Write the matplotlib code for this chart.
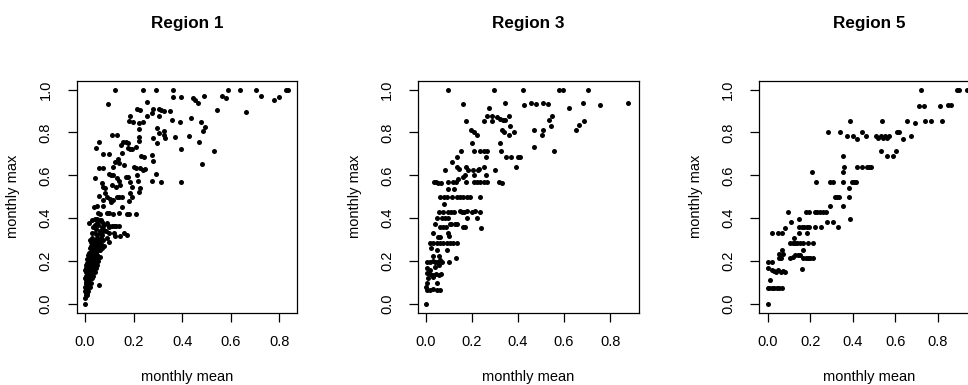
import numpy as np
import matplotlib
matplotlib.use("Agg")
import matplotlib.pyplot as plt

plt.rcParams['font.family'] = ['Liberation Sans', 'DejaVu Sans']

# monthly mean / monthly max pairs
region1 = [
    (0.125, 1.0), (0.24, 1.0), (0.293, 1.0), (0.363, 1.0), (0.59, 1.0), (0.639, 1.0),
    (0.702, 1.0), (0.826, 1.0), (0.834, 1.0),
    (0.093, 0.933), (0.362, 0.966), (0.394, 0.964), (0.444, 0.963), (0.451, 0.952),
    (0.464, 0.936), (0.49, 0.969), (0.565, 0.969), (0.579, 0.961), (0.726, 0.97),
    (0.776, 0.953), (0.8, 0.964),
    (0.256, 0.94), (0.215, 0.908), (0.226, 0.904), (0.28, 0.91), (0.303, 0.91),
    (0.313, 0.905), (0.326, 0.902), (0.351, 0.9), (0.542, 0.904), (0.661, 0.897),
    (0.184, 0.877), (0.181, 0.855), (0.196, 0.848), (0.224, 0.846), (0.24, 0.848),
    (0.256, 0.877), (0.277, 0.893), (0.306, 0.877), (0.358, 0.857), (0.392, 0.851),
    (0.437, 0.866), (0.479, 0.848), (0.495, 0.827), (0.487, 0.806),
    (0.224, 0.816), (0.222, 0.781), (0.224, 0.759), (0.295, 0.82), (0.305, 0.796),
    (0.295, 0.753), (0.326, 0.807), (0.327, 0.788), (0.331, 0.773), (0.278, 0.773),
    (0.37, 0.781), (0.427, 0.785), (0.468, 0.757),
    (0.11, 0.79), (0.13, 0.79), (0.056, 0.757), (0.045, 0.726), (0.075, 0.698), (0.1, 0.698),
    (0.15, 0.743), (0.158, 0.757), (0.167, 0.757), (0.177, 0.753), (0.175, 0.729),
    (0.185, 0.725), (0.193, 0.722), (0.208, 0.734),
    (0.152, 0.703), (0.136, 0.675), (0.123, 0.664), (0.141, 0.656), (0.23, 0.69),
    (0.243, 0.687), (0.277, 0.695), (0.28, 0.666), (0.394, 0.723), (0.531, 0.714), (0.483, 0.655),
    (0.056, 0.636), (0.075, 0.636), (0.114, 0.639), (0.16, 0.649), (0.203, 0.641),
    (0.21, 0.633), (0.225, 0.633), (0.24, 0.625), (0.248, 0.63),
    (0.1, 0.607), (0.106, 0.602), (0.117, 0.6), (0.169, 0.594), (0.177, 0.594),
    (0.215, 0.602), (0.292, 0.607), (0.043, 0.586), (0.218, 0.574), (0.274, 0.574),
    (0.314, 0.571), (0.396, 0.571),
    (0.07, 0.566), (0.075, 0.547), (0.084, 0.543), (0.112, 0.554), (0.128, 0.544),
    (0.144, 0.554), (0.13, 0.586), (0.139, 0.572), (0.185, 0.569), (0.193, 0.547),
    (0.222, 0.524), (0.226, 0.54),
    (0.082, 0.516), (0.089, 0.499), (0.103, 0.491), (0.13, 0.501), (0.141, 0.499),
    (0.152, 0.501), (0.059, 0.504), (0.075, 0.485), (0.106, 0.477), (0.117, 0.485),
    (0.185, 0.519), (0.192, 0.501), (0.181, 0.481),
    (0.038, 0.454), (0.048, 0.459), (0.073, 0.459), (0.151, 0.454), (0.055, 0.426),
    (0.062, 0.42), (0.089, 0.426), (0.1, 0.423), (0.117, 0.42), (0.141, 0.423),
    (0.171, 0.42), (0.182, 0.42), (0.21, 0.42),
    (0.015, 0.376), (0.029, 0.392), (0.04, 0.398), (0.048, 0.398), (0.062, 0.392),
    (0.07, 0.384), (0.1, 0.364), (0.11, 0.364), (0.119, 0.364), (0.128, 0.364), (0.141, 0.364),
    (0.075, 0.339), (0.097, 0.333), (0.122, 0.319), (0.144, 0.319), (0.171, 0.323),
    (0.0, 0.0), (0.002, 0.03), (0.005, 0.04), (0.003, 0.05), (0.008, 0.05), (0.006, 0.06),
    (0.01, 0.07), (0.004, 0.07), (0.012, 0.08), (0.007, 0.09), (0.015, 0.09), (0.009, 0.1),
    (0.018, 0.1), (0.003, 0.1), (0.059, 0.09),
    (0.005, 0.11), (0.012, 0.12), (0.02, 0.12), (0.008, 0.13), (0.016, 0.13), (0.025, 0.14),
    (0.01, 0.14), (0.004, 0.15), (0.018, 0.15), (0.028, 0.15), (0.012, 0.16), (0.022, 0.16),
    (0.006, 0.17), (0.03, 0.17), (0.015, 0.18), (0.025, 0.18), (0.035, 0.18), (0.01, 0.19),
    (0.02, 0.19), (0.04, 0.19), (0.03, 0.2), (0.015, 0.2), (0.045, 0.2), (0.055, 0.2), (0.06, 0.22),
    (0.02, 0.21), (0.035, 0.22), (0.045, 0.22), (0.025, 0.23), (0.05, 0.23), (0.015, 0.24),
    (0.04, 0.24), (0.06, 0.25), (0.03, 0.25), (0.07, 0.26), (0.02, 0.26), (0.045, 0.27),
    (0.055, 0.27), (0.035, 0.28), (0.065, 0.28), (0.025, 0.29), (0.05, 0.29), (0.08, 0.27),
    (0.04, 0.3), (0.06, 0.3), (0.075, 0.3), (0.1, 0.29),
    (0.03, 0.31), (0.05, 0.32), (0.07, 0.32), (0.09, 0.31), (0.04, 0.33), (0.06, 0.34),
    (0.085, 0.34), (0.045, 0.35), (0.07, 0.36), (0.035, 0.36), (0.055, 0.37), (0.08, 0.37),
    (0.1, 0.36), (0.05, 0.38), (0.065, 0.39), (0.12, 0.33), (0.16, 0.33),
    (0.0, 0.06), (0.002, 0.08), (0.006, 0.1), (0.001, 0.12), (0.014, 0.11), (0.003, 0.13),
    (0.02, 0.14), (0.009, 0.15), (0.024, 0.16), (0.002, 0.16), (0.016, 0.17), (0.036, 0.16),
    (0.005, 0.18), (0.02, 0.18), (0.03, 0.19), (0.012, 0.2), (0.025, 0.2), (0.038, 0.21),
    (0.008, 0.21), (0.028, 0.22), (0.05, 0.21), (0.018, 0.22), (0.012, 0.23), (0.035, 0.23),
    (0.045, 0.24), (0.022, 0.24), (0.03, 0.24), (0.052, 0.25), (0.04, 0.26), (0.025, 0.27),
    (0.06, 0.27), (0.03, 0.28), (0.045, 0.28), (0.055, 0.29), (0.035, 0.29), (0.02, 0.3),
    (0.05, 0.31), (0.065, 0.31), (0.06, 0.33), (0.075, 0.35), (0.09, 0.38), (0.04, 0.37),
    (0.03, 0.33), (0.01, 0.04), (0.014, 0.06), (0.02, 0.08), (0.025, 0.1), (0.03, 0.12),
    (0.035, 0.13), (0.04, 0.15), (0.045, 0.17), (0.05, 0.18),
]

region3 = [
    (0.097, 1.0), (0.297, 1.0), (0.42, 1.0), (0.578, 1.0), (0.597, 1.0), (0.706, 1.0),
    (0.159, 0.933), (0.343, 0.936), (0.426, 0.93), (0.458, 0.936), (0.48, 0.933),
    (0.509, 0.936), (0.532, 0.933), (0.623, 0.916), (0.684, 0.936), (0.755, 0.93), (0.88, 0.936),
    (0.275, 0.914), (0.265, 0.879), (0.287, 0.879), (0.309, 0.871), (0.322, 0.865),
    (0.333, 0.858), (0.254, 0.855), (0.288, 0.855), (0.359, 0.876), (0.342, 0.858),
    (0.175, 0.855), (0.197, 0.812), (0.209, 0.803), (0.22, 0.787),
    (0.33, 0.812), (0.341, 0.804), (0.361, 0.787), (0.381, 0.8), (0.367, 0.83),
    (0.468, 0.812), (0.504, 0.787), (0.507, 0.81), (0.533, 0.858), (0.543, 0.832),
    (0.548, 0.877), (0.468, 0.734),
    (0.654, 0.81), (0.667, 0.833), (0.687, 0.855), (0.557, 0.715),
    (0.199, 0.751), (0.209, 0.714), (0.233, 0.714), (0.252, 0.714), (0.264, 0.714),
    (0.322, 0.751), (0.328, 0.714), (0.348, 0.684), (0.37, 0.684), (0.401, 0.684),
    (0.41, 0.684), (0.39, 0.641),
    (0.136, 0.684), (0.113, 0.664), (0.152, 0.714),
    (0.135, 0.641), (0.142, 0.631), (0.175, 0.641), (0.184, 0.625), (0.203, 0.625), (0.225, 0.625),
    (0.083, 0.625), (0.097, 0.571), (0.116, 0.569), (0.129, 0.569), (0.141, 0.585),
    (0.162, 0.594), (0.17, 0.602), (0.174, 0.569),
    (0.21, 0.569), (0.222, 0.569), (0.235, 0.569), (0.254, 0.569), (0.267, 0.569),
    (0.21, 0.602), (0.261, 0.602), (0.254, 0.641), (0.261, 0.684), (0.229, 0.628),
    (0.033, 0.571), (0.043, 0.569), (0.054, 0.566), (0.065, 0.563), (0.319, 0.569),
    (0.33, 0.563), (0.3, 0.625),
    (0.08, 0.501), (0.097, 0.535), (0.122, 0.535), (0.061, 0.501), (0.09, 0.501),
    (0.114, 0.501), (0.136, 0.501), (0.148, 0.501), (0.162, 0.501), (0.18, 0.501),
    (0.191, 0.501), (0.235, 0.501),
    (0.08, 0.467), (0.058, 0.431), (0.075, 0.431), (0.097, 0.431), (0.11, 0.431),
    (0.12, 0.431), (0.146, 0.435), (0.155, 0.431), (0.165, 0.431), (0.18, 0.435),
    (0.2, 0.431), (0.213, 0.435), (0.233, 0.431),
    (0.046, 0.4), (0.07, 0.4), (0.084, 0.4), (0.097, 0.4), (0.178, 0.4), (0.22, 0.4), (0.239, 0.356),
    (0.039, 0.372), (0.061, 0.358), (0.072, 0.358), (0.087, 0.361), (0.104, 0.372),
    (0.11, 0.373), (0.125, 0.373), (0.136, 0.373), (0.159, 0.358), (0.171, 0.358),
    (0.032, 0.333), (0.051, 0.311), (0.062, 0.311), (0.097, 0.333), (0.099, 0.317),
    (0.017, 0.283), (0.032, 0.283), (0.046, 0.283), (0.061, 0.283), (0.075, 0.283),
    (0.09, 0.283), (0.104, 0.283), (0.119, 0.283), (0.136, 0.283),
    (0.023, 0.26), (0.046, 0.252), (0.09, 0.252), (0.13, 0.213), (0.1, 0.198),
    (0.006, 0.198), (0.017, 0.198), (0.029, 0.2), (0.039, 0.198), (0.049, 0.198),
    (0.061, 0.205), (0.07, 0.195), (0.032, 0.224), (0.058, 0.224), (0.039, 0.174), (0.058, 0.182),
    (0.003, 0.143), (0.017, 0.14), (0.029, 0.137), (0.043, 0.14), (0.055, 0.137),
    (0.064, 0.14), (0.006, 0.166), (0.017, 0.159), (0.01, 0.12), (0.029, 0.128),
    (0.0, 0.081), (0.006, 0.065), (0.017, 0.065), (0.032, 0.068), (0.046, 0.065),
    (0.061, 0.065), (0.003, 0.096), (0.049, 0.096),
    (0.0, 0.0),
]

region5 = [
    (0.0, 0.0),
    (0.0, 0.073), (0.008, 0.073), (0.019, 0.073), (0.03, 0.073), (0.042, 0.073),
    (0.055, 0.073), (0.067, 0.073), (0.011, 0.112),
    (0.003, 0.198), (0.019, 0.198), (0.003, 0.166), (0.019, 0.16), (0.03, 0.155),
    (0.039, 0.148), (0.05, 0.16), (0.061, 0.148), (0.073, 0.155), (0.081, 0.148),
    (0.022, 0.333), (0.05, 0.333), (0.066, 0.333), (0.081, 0.355), (0.095, 0.428), (0.108, 0.384),
    (0.055, 0.216), (0.064, 0.216), (0.055, 0.233), (0.074, 0.233), (0.067, 0.252),
    (0.105, 0.216), (0.117, 0.221), (0.127, 0.229), (0.141, 0.229), (0.152, 0.229),
    (0.167, 0.213), (0.178, 0.213), (0.189, 0.213), (0.2, 0.213), (0.211, 0.213),
    (0.167, 0.252), (0.16, 0.163),
    (0.105, 0.283), (0.117, 0.283), (0.128, 0.283), (0.139, 0.283), (0.152, 0.283),
    (0.164, 0.283), (0.188, 0.283), (0.214, 0.283), (0.124, 0.306),
    (0.146, 0.333), (0.183, 0.333), (0.149, 0.358), (0.161, 0.358), (0.172, 0.358),
    (0.184, 0.358), (0.196, 0.358), (0.149, 0.397), (0.221, 0.358), (0.249, 0.358),
    (0.18, 0.428), (0.192, 0.428), (0.221, 0.428), (0.233, 0.428), (0.246, 0.428),
    (0.261, 0.428), (0.274, 0.428),
    (0.28, 0.384), (0.308, 0.384), (0.329, 0.358), (0.293, 0.459), (0.208, 0.614), (0.225, 0.571),
    (0.316, 0.501), (0.327, 0.501), (0.336, 0.501), (0.355, 0.459), (0.383, 0.501),
    (0.383, 0.54), (0.385, 0.397),
    (0.293, 0.571), (0.308, 0.571), (0.355, 0.571), (0.394, 0.571), (0.405, 0.571),
    (0.415, 0.571), (0.355, 0.614), (0.36, 0.641), (0.355, 0.69),
    (0.421, 0.641), (0.443, 0.641), (0.465, 0.641), (0.474, 0.641), (0.484, 0.641),
    (0.282, 0.8), (0.34, 0.8), (0.374, 0.785), (0.399, 0.785), (0.389, 0.855),
    (0.418, 0.768), (0.444, 0.8), (0.461, 0.785),
    (0.509, 0.785), (0.519, 0.772), (0.53, 0.785), (0.54, 0.772), (0.55, 0.785),
    (0.561, 0.772), (0.571, 0.785), (0.531, 0.714), (0.537, 0.855), (0.559, 0.69),
    (0.587, 0.69), (0.602, 0.714), (0.606, 0.8), (0.618, 0.8), (0.637, 0.768),
    (0.653, 0.855), (0.673, 0.785), (0.692, 0.846),
    (0.72, 1.0), (0.712, 0.922), (0.735, 0.922), (0.737, 0.855), (0.767, 0.855),
    (0.809, 0.922), (0.82, 0.855), (0.848, 0.93), (0.861, 0.93),
    (0.89, 1.0), (0.898, 1.0), (0.937, 1.0),
]

titles = ["Region 1", "Region 3", "Region 5"]
panels = [region1, region3, region5]
x_limits = [(-0.034, 0.872), (-0.0335, 0.924), (-0.039, 0.995)]
x_ticks = [0.0, 0.2, 0.4, 0.6, 0.8]
y_ticks = [0.0, 0.2, 0.4, 0.6, 0.8, 1.0]

W, H = 968, 385
fig = plt.figure(figsize=(W / 100, H / 100), dpi=100)

lefts = [76.7, 418.3, 759.3]
box_w, top, bottom = 220.3, 81.0, 312.6

for left, pts, title, xl in zip(lefts, panels, titles, x_limits):
    ax = fig.add_axes([left / W, (H - bottom) / H, box_w / W, (bottom - top) / H])
    pts = np.array(pts)
    ax.plot(pts[:, 0], pts[:, 1], 'o', color='black', ms=3.6, mew=0)
    ax.set_xlim(*xl)
    ax.set_ylim(-0.04, 1.04)
    ax.set_xticks(x_ticks)
    ax.set_xticklabels([f"{t:.1f}" for t in x_ticks])
    ax.set_yticks(y_ticks)
    ax.set_yticklabels([f"{t:.1f}" for t in y_ticks], rotation=90, va='center')
    ax.tick_params(axis='both', direction='out', length=6.5, width=0.9,
                   labelsize=10.5, colors='black')
    ax.tick_params(axis='x', pad=9.5)
    ax.tick_params(axis='y', pad=11)
    for s in ax.spines.values():
        s.set_linewidth(0.9)
    ax.text(0.5, -0.278, "monthly mean", transform=ax.transAxes,
            ha='center', va='center', fontsize=10.5)
    ax.text(-0.287, 0.5, "monthly max", transform=ax.transAxes, rotation=90,
            ha='center', va='center', fontsize=10.5)
    ax.text(0.5, 1.248, title, transform=ax.transAxes, ha='center', va='center',
            fontsize=12.3, fontweight='bold')

fig.savefig("out.png", dpi=100)
